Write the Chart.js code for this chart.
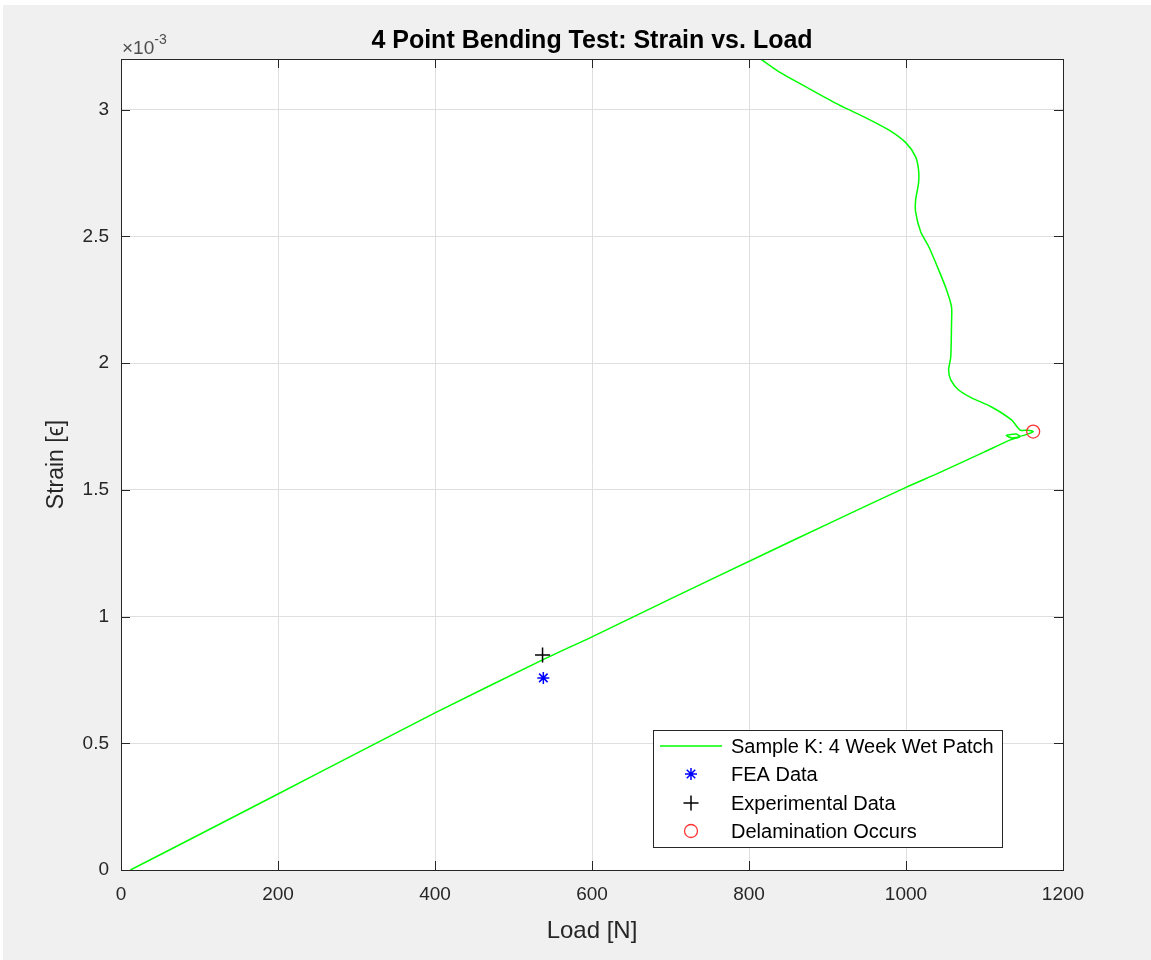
<!DOCTYPE html>
<html><head><meta charset="utf-8">
<script src="https://cdn.jsdelivr.net/npm/chart.js@4/dist/chart.umd.min.js"></script>
<style>html,body{margin:0;padding:0;background:#f0f0f0;}#wrap{width:1151px;height:960px;}</style>
</head><body><div id="wrap"><canvas id="c" width="1151" height="960"></canvas></div>
<script>
// ---- data (strain values in units of 10^-3) ----
const chartTitle = '4 Point Bending Test: Strain vs. Load';
const xTitle = 'Load [N]';
const yTitle = 'Strain [\u03F5]';
const exponentLabel = '-3';
const xTicks = [0, 200, 400, 600, 800, 1000, 1200];
const yTicks = [0, 0.5, 1, 1.5, 2, 2.5, 3];
const seriesNames = ['Sample K: 4 Week Wet Patch', 'FEA Data', 'Experimental Data', 'Delamination Occurs'];

const sampleLoad = [12, 100, 200, 300, 400, 537, 600, 700, 813, 900, 1000, 1042, 1100, 1133, 1145, 1140, 1128, 1135, 1150, 1162,
  1155, 1145.5, 1134.4, 1109, 1083.5, 1067, 1057, 1054.3, 1057, 1058, 1058, 1051.7, 1041.6, 1029, 1018.7, 1012.3, 1012.3,
  1016, 1016, 1012.3, 1000, 978, 949, 914.6, 872.6, 838.3, 812.9];
const sampleStrain = [0, 0.14, 0.30, 0.46, 0.62, 0.829, 0.92, 1.07, 1.237, 1.365, 1.51, 1.567, 1.65, 1.697, 1.71, 1.72, 1.715, 1.705, 1.715, 1.73,
  1.735, 1.736, 1.776, 1.827, 1.863, 1.894, 1.934, 1.973, 2.024, 2.159, 2.222, 2.289, 2.368, 2.459, 2.518, 2.596, 2.644,
  2.711, 2.762, 2.814, 2.869, 2.920, 2.968, 3.019, 3.090, 3.149, 3.204];

const feaLoad = [538];
const feaStrain = [0.758];
const expLoad = [537];
const expStrain = [0.848];
const delamLoad = [1162];
const delamStrain = [1.730];

const xRange = [0, 1200];
const yRange = [0, 3.2];

// ---- helpers ----
const pts = (xs, ys) => xs.map((x, i) => ({x: x, y: ys[i]}));
const AX = '#262626';
const FONT = "'Liberation Sans', Arial, Helvetica, sans-serif";

const markerStyles = [
  null,
  {pointStyle: 'star', radius: 6, borderWidth: 1.5, color: '#0000ff'},
  {pointStyle: 'cross', radius: 7.5, borderWidth: 1.5, color: '#000000'},
  {pointStyle: 'circle', radius: 6.5, borderWidth: 1.3, color: '#ff3333'}
];

const decor = {
  id: 'decor',
  beforeDraw(chart) {
    const ctx = chart.ctx, a = chart.chartArea;
    ctx.save();
    ctx.fillStyle = '#f0f0f0';
    ctx.fillRect(0, 0, chart.width, chart.height);
    ctx.fillStyle = '#ffffff';
    ctx.fillRect(0, 0, chart.width, 5);
    ctx.fillRect(0, 0, 3, chart.height);
    ctx.fillRect(a.left, a.top, a.right - a.left, a.bottom - a.top);
    ctx.restore();
  },
  afterDraw(chart) {
    const ctx = chart.ctx, a = chart.chartArea;
    const xs = chart.scales.x, ys = chart.scales.y;
    ctx.save();
    // axes box
    ctx.strokeStyle = AX;
    ctx.lineWidth = 1;
    ctx.strokeRect(Math.round(a.left) + 0.5, Math.round(a.top) + 0.5, Math.round(a.right - a.left), Math.round(a.bottom - a.top));
    // inward ticks on all four sides
    const tl = 9;
    ctx.beginPath();
    xTicks.forEach(v => {
      const px = Math.round(xs.getPixelForValue(v)) + 0.5;
      ctx.moveTo(px, a.bottom); ctx.lineTo(px, a.bottom - tl);
      ctx.moveTo(px, a.top); ctx.lineTo(px, a.top + tl);
    });
    yTicks.forEach(v => {
      const py = Math.round(ys.getPixelForValue(v)) + 0.5;
      ctx.moveTo(a.left, py); ctx.lineTo(a.left + tl, py);
      ctx.moveTo(a.right, py); ctx.lineTo(a.right - tl, py);
    });
    ctx.stroke();
    // title
    ctx.fillStyle = '#000000';
    ctx.font = 'bold 25px ' + FONT;
    ctx.textAlign = 'center';
    ctx.textBaseline = 'alphabetic';
    ctx.fillText(chartTitle, (a.left + a.right) / 2, 48);
    // exponent label
    ctx.fillStyle = '#4d4d4d';
    ctx.textAlign = 'left';
    ctx.font = '19px ' + FONT;
    ctx.fillText('\u00D710', a.left + 1, 54);
    const w = ctx.measureText('\u00D710').width;
    ctx.font = '14px ' + FONT;
    ctx.fillText(exponentLabel, a.left + 1 + w, 44);
    // legend
    const lx = 653, ly = 730, lw = 349, lh = 117;
    ctx.fillStyle = '#ffffff';
    ctx.fillRect(lx, ly, lw, lh);
    ctx.strokeStyle = AX;
    ctx.lineWidth = 1;
    ctx.strokeRect(lx + 0.5, ly + 0.5, lw, lh);
    const rows = [746, 774, 803, 831];
    ctx.font = '20px ' + FONT;
    ctx.textBaseline = 'middle';
    seriesNames.forEach((name, i) => {
      const y = rows[i];
      if (i === 0) {
        ctx.strokeStyle = '#00ff00';
        ctx.lineWidth = 1.5;
        ctx.beginPath(); ctx.moveTo(660, y); ctx.lineTo(722, y); ctx.stroke();
      } else {
        const m = markerStyles[i];
        ctx.strokeStyle = m.color;
        ctx.fillStyle = 'rgba(0,0,0,0)';
        ctx.lineWidth = m.borderWidth;
        Chart.helpers.drawPoint(ctx, {pointStyle: m.pointStyle, radius: m.radius, borderWidth: m.borderWidth, rotation: 0}, 691, y);
      }
      ctx.fillStyle = '#000000';
      ctx.fillText(name, 731, y + 1);
    });
    ctx.restore();
  }
};

const ctx = document.getElementById('c').getContext('2d');
new Chart(ctx, {
  type: 'scatter',
  data: {
    datasets: [
      {label: seriesNames[0], data: pts(sampleLoad, sampleStrain), showLine: true, borderColor: '#00ff00',
       backgroundColor: '#00ff00', borderWidth: 1.5, pointRadius: 0, tension: 0.25, order: 4},
      {label: seriesNames[1], data: pts(feaLoad, feaStrain), pointStyle: 'star', pointRadius: markerStyles[1].radius,
       pointBorderWidth: 1.5, borderColor: '#0000ff', backgroundColor: 'rgba(0,0,0,0)', order: 3},
      {label: seriesNames[2], data: pts(expLoad, expStrain), pointStyle: 'cross', pointRadius: markerStyles[2].radius,
       pointBorderWidth: 1.5, borderColor: '#000000', backgroundColor: 'rgba(0,0,0,0)', order: 2},
      {label: seriesNames[3], data: pts(delamLoad, delamStrain), pointStyle: 'circle', pointRadius: markerStyles[3].radius,
       pointBorderWidth: 1.3, borderColor: '#ff3333', backgroundColor: 'rgba(0,0,0,0)', order: 1}
    ]
  },
  options: {
    responsive: false,
    animation: false,
    devicePixelRatio: 1,
    layout: {padding: {left: 0, right: 88, top: 59, bottom: 0}},
    plugins: {legend: {display: false}, title: {display: false}, tooltip: {enabled: false}},
    scales: {
      x: {
        type: 'linear', min: xRange[0], max: xRange[1],
        afterBuildTicks: s => { s.ticks = xTicks.map(v => ({value: v})); },
        afterFit: s => { s.height = 90; },
        grid: {color: '#dfdfdf', lineWidth: 1, drawTicks: false},
        border: {display: false},
        ticks: {padding: 13, color: AX, font: {family: FONT, size: 19}, maxRotation: 0, callback: v => String(v)},
        title: {display: true, text: xTitle, color: AX, font: {family: FONT, size: 24}, padding: {top: 0, bottom: 14}}
      },
      y: {
        type: 'linear', min: yRange[0], max: yRange[1],
        afterBuildTicks: s => { s.ticks = yTicks.map(v => ({value: v})); },
        afterFit: s => { s.width = 121; },
        grid: {color: '#dfdfdf', lineWidth: 1, drawTicks: false},
        border: {display: false},
        ticks: {padding: 12, color: AX, font: {family: FONT, size: 19}, callback: v => String(v)},
        title: {display: true, text: yTitle, color: AX, font: {family: FONT, size: 23}, padding: {top: 43, bottom: 0}}
      }
    }
  },
  plugins: [decor]
});
</script></body></html>
